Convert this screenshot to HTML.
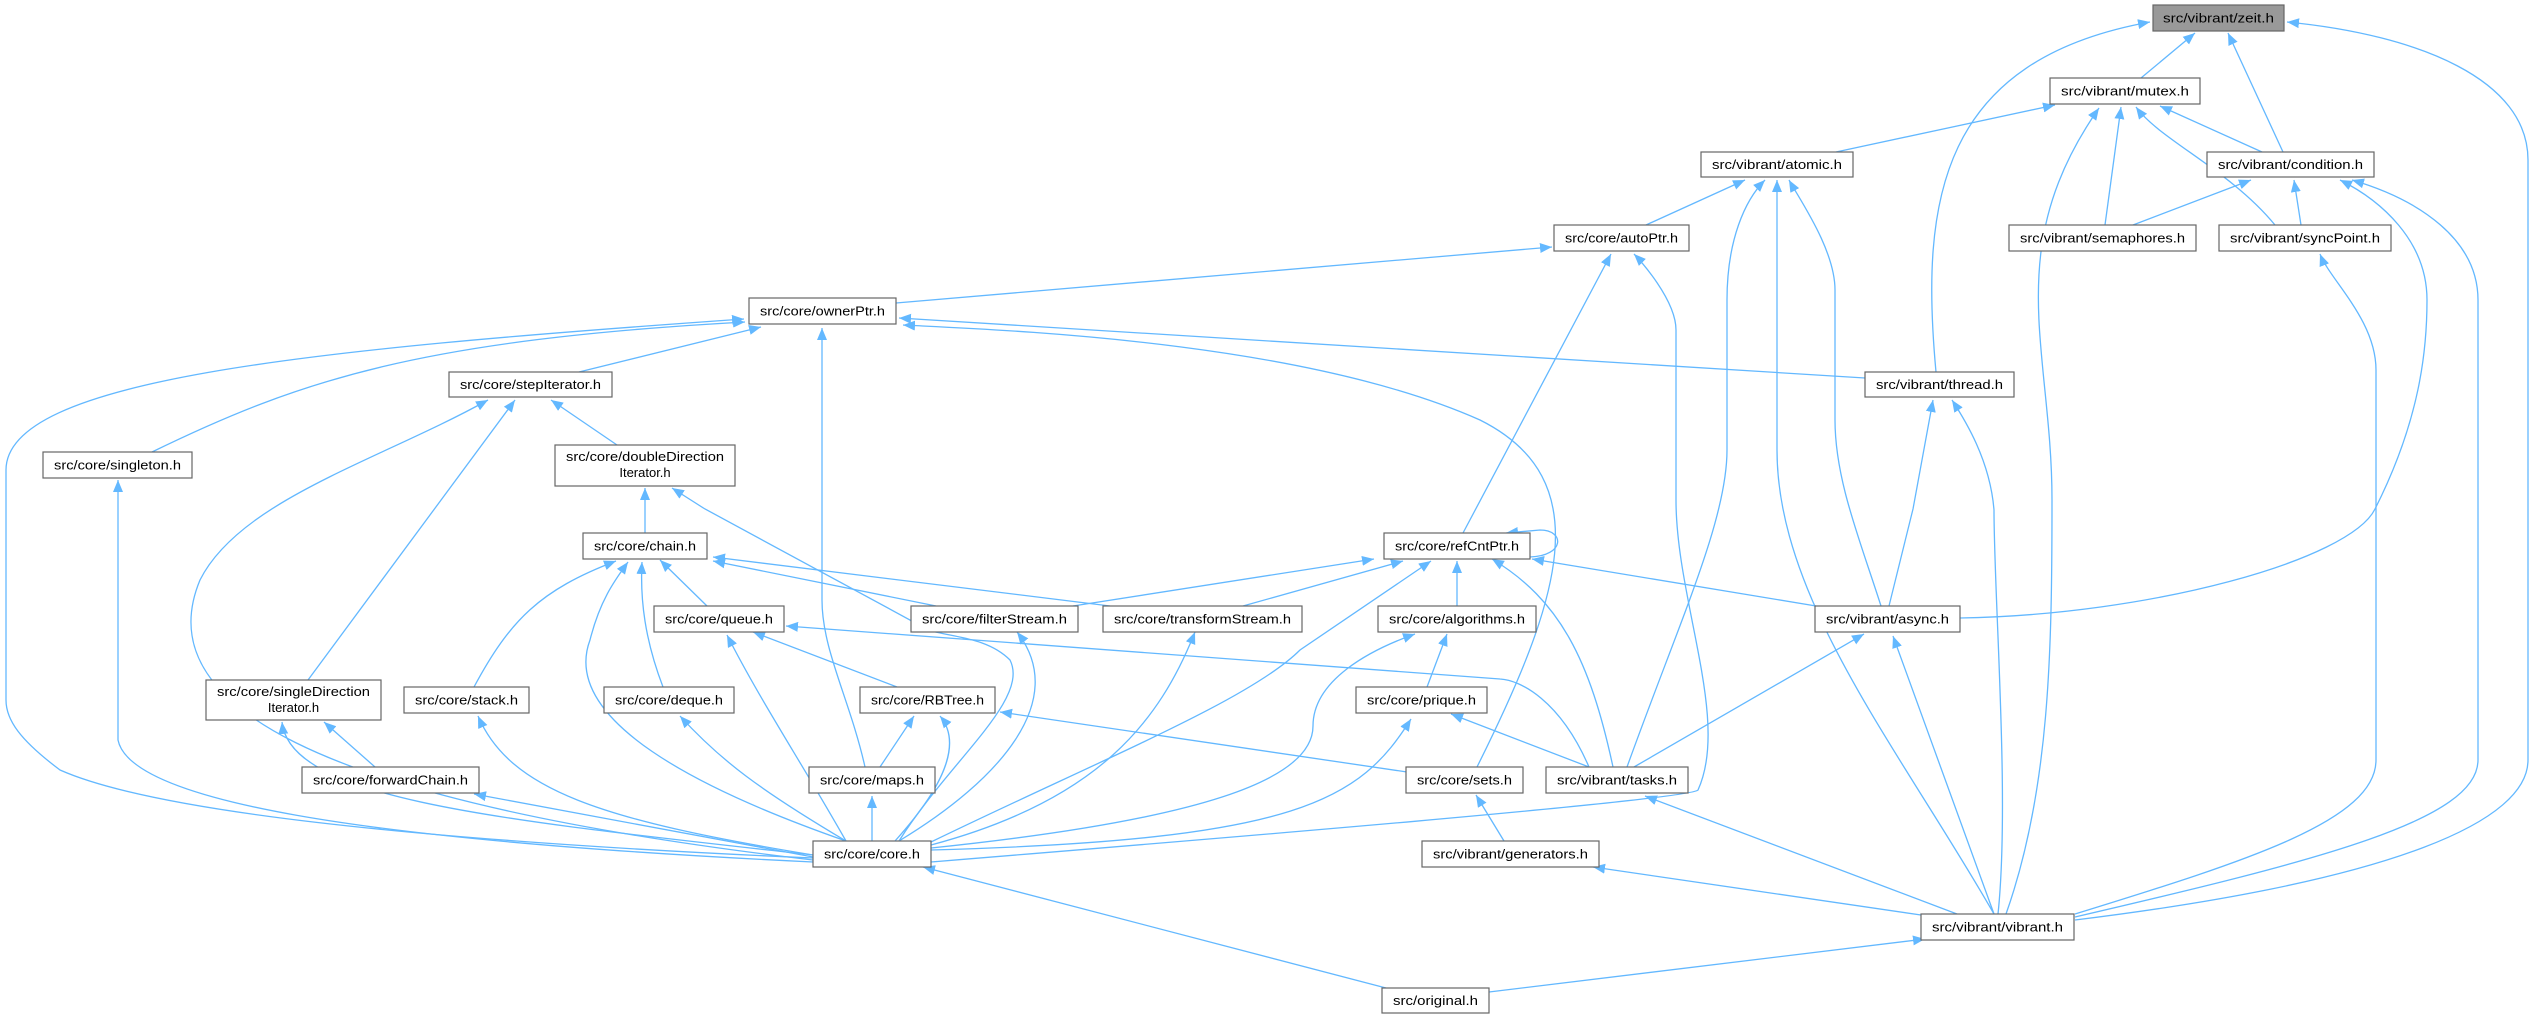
<!DOCTYPE html>
<html><head><meta charset="utf-8"><style>
html,body{margin:0;padding:0;background:#fff;}
svg{display:block;}
text{font-family:"Liberation Sans","DejaVu Sans",sans-serif;font-size:13px;fill:#000;}
.e{fill:none;stroke:#63b8ff;stroke-width:1.3;marker-end:url(#a);}
.n{fill:#fff;stroke:#666;stroke-width:1.2;}
</style></head><body>
<svg width="2535" height="1019" viewBox="0 0 2535 1019" xmlns="http://www.w3.org/2000/svg">
<defs><marker id="a" markerUnits="userSpaceOnUse" markerWidth="14" markerHeight="12" refX="12" refY="5" orient="auto"><path d="M0,0 L12,5 L0,10 z" fill="#63b8ff"/></marker></defs>
<g>
<path class="e" d="M2141,78 L2195,33"/>
<path class="e" d="M2283,152 L2228,33"/>
<path class="e" d="M1936,372 C1920,200 1940,60 2150,22"/>
<path class="e" d="M2075,920 C2400,880 2528,820 2528,760 L2528,160 C2528,80 2420,35 2287,22"/>
<path class="e" d="M1836,152 L2055,105"/>
<path class="e" d="M2262,152 L2160,106"/>
<path class="e" d="M2105,225 L2121,107"/>
<path class="e" d="M2275,225 C2230,170 2160,140 2136,107"/>
<path class="e" d="M2006,914 C2050,790 2052,650 2052,500 C2052,350 2000,250 2099,108"/>
<path class="e" d="M2133,225 L2251,180"/>
<path class="e" d="M2301,225 L2294,180"/>
<path class="e" d="M1960,618 C2150,615 2350,560 2375,509 C2420,420 2427,350 2427,300 C2427,240 2380,200 2340,180"/>
<path class="e" d="M2075,914 C2250,860 2376,820 2376,760 L2376,370 C2376,320 2330,280 2320,254"/>
<path class="e" d="M2075,917 C2320,860 2478,820 2478,760 L2478,300 C2478,240 2420,200 2352,180"/>
<path class="e" d="M1646,225 L1745,180"/>
<path class="e" d="M1627,767 C1680,620 1727,520 1727,450 L1727,300 C1727,240 1745,200 1765,180"/>
<path class="e" d="M1994,914 C1900,750 1777,600 1777,450 L1777,180"/>
<path class="e" d="M1881,606 C1860,540 1835,480 1835,420 L1835,290 C1835,250 1800,200 1789,180"/>
<path class="e" d="M896,303 L1552,247"/>
<path class="e" d="M1463,533 L1611,254"/>
<path class="e" d="M931,862 C1200,840 1690,800 1698,790 C1730,720 1676,600 1676,500 L1676,330 C1676,300 1640,260 1634,254"/>
<path class="e" d="M579,372 L761,327"/>
<path class="e" d="M152,452 C300,380 420,340 745,322"/>
<path class="e" d="M813,858 C400,840 150,810 60,770 C20,740 6,720 6,700 L6,470 C6,380 300,350 744,319"/>
<path class="e" d="M865,767 C850,700 822,650 822,600 L822,328"/>
<path class="e" d="M1865,378 L899,318"/>
<path class="e" d="M1477,767 C1560,600 1600,480 1480,420 C1300,340 1000,330 903,325"/>
<path class="e" d="M617,445 L551,400"/>
<path class="e" d="M308,680 L515,400"/>
<path class="e" d="M813,860 C300,800 150,700 200,580 C240,500 380,460 488,400"/>
<path class="e" d="M813,862 C350,840 130,800 118,740 L118,480"/>
<path class="e" d="M645,533 L645,488"/>
<path class="e" d="M899,841 C950,760 1030,700 1010,660 C980,630 930,640 910,620 L705,509 L672,488"/>
<path class="e" d="M707,606 L660,560"/>
<path class="e" d="M474,687 C510,620 540,590 616,561"/>
<path class="e" d="M663,687 C645,640 640,600 642,562"/>
<path class="e" d="M846,841 C700,790 560,720 590,640 C600,600 615,580 628,562"/>
<path class="e" d="M936,606 L713,561"/>
<path class="e" d="M1110,606 L713,557"/>
<path class="e" d="M1073,606 L1374,559"/>
<path class="e" d="M1243,606 L1403,561"/>
<path class="e" d="M1457,606 L1457,561"/>
<path class="e" d="M1816,606 L1532,559"/>
<path class="e" d="M1613,767 C1590,660 1560,600 1492,559"/>
<path class="e" d="M931,842 C1100,760 1250,700 1300,650 L1431,561"/>
<path class="e" d="M1530,557 C1565,556 1565,530 1540,530 L1506,533"/>
<path class="e" d="M897,687 L753,632"/>
<path class="e" d="M846,841 C800,760 760,700 727,635"/>
<path class="e" d="M1589,767 C1560,700 1520,680 1500,679 L786,626"/>
<path class="e" d="M899,841 C1000,780 1070,700 1017,632"/>
<path class="e" d="M931,845 C1100,800 1160,720 1195,632"/>
<path class="e" d="M1427,687 L1447,634"/>
<path class="e" d="M931,848 C1200,820 1313,780 1313,726 C1313,680 1370,650 1415,634"/>
<path class="e" d="M1634,767 L1864,634"/>
<path class="e" d="M1994,914 L1893,636"/>
<path class="e" d="M1889,606 L1913,509 L1933,400"/>
<path class="e" d="M1998,914 C2010,800 1994,600 1994,510 C1990,460 1965,420 1952,400"/>
<path class="e" d="M375,767 L324,722"/>
<path class="e" d="M813,855 C500,820 290,800 282,722"/>
<path class="e" d="M813,855 C600,820 510,790 478,716"/>
<path class="e" d="M846,841 C760,790 720,760 680,716"/>
<path class="e" d="M880,767 L914,716"/>
<path class="e" d="M895,841 C950,780 960,740 940,716"/>
<path class="e" d="M1407,772 L1000,712"/>
<path class="e" d="M1589,767 L1451,714"/>
<path class="e" d="M931,850 C1300,840 1360,800 1411,719"/>
<path class="e" d="M813,857 L474,794"/>
<path class="e" d="M872,841 L872,796"/>
<path class="e" d="M1504,841 L1476,795"/>
<path class="e" d="M1957,914 L1645,796"/>
<path class="e" d="M1921,915 L1593,867"/>
<path class="e" d="M1386,988 L923,867"/>
<path class="e" d="M1489,992 L1925,939"/>
</g>
<g>
<rect x="2153" y="5" width="131" height="26" fill="#999" stroke="#666" stroke-width="1.2"/><text x="2218.5" y="22.5" text-anchor="middle" textLength="111" lengthAdjust="spacingAndGlyphs">src/vibrant/zeit.h</text>
<rect class="n" x="2050" y="78" width="150" height="26"/><text x="2125" y="95.5" text-anchor="middle" textLength="128" lengthAdjust="spacingAndGlyphs">src/vibrant/mutex.h</text>
<rect class="n" x="1701" y="152" width="152" height="25"/><text x="1777" y="169" text-anchor="middle" textLength="130" lengthAdjust="spacingAndGlyphs">src/vibrant/atomic.h</text>
<rect class="n" x="2207" y="152" width="167" height="25"/><text x="2290.5" y="169" text-anchor="middle" textLength="145" lengthAdjust="spacingAndGlyphs">src/vibrant/condition.h</text>
<rect class="n" x="1554" y="225" width="135" height="26"/><text x="1621.5" y="242.5" text-anchor="middle" textLength="113" lengthAdjust="spacingAndGlyphs">src/core/autoPtr.h</text>
<rect class="n" x="2009" y="225" width="187" height="26"/><text x="2102.5" y="242.5" text-anchor="middle" textLength="165" lengthAdjust="spacingAndGlyphs">src/vibrant/semaphores.h</text>
<rect class="n" x="2219" y="225" width="172" height="26"/><text x="2305" y="242.5" text-anchor="middle" textLength="150" lengthAdjust="spacingAndGlyphs">src/vibrant/syncPoint.h</text>
<rect class="n" x="1865" y="372" width="149" height="25"/><text x="1939.5" y="389" text-anchor="middle" textLength="127" lengthAdjust="spacingAndGlyphs">src/vibrant/thread.h</text>
<rect class="n" x="749" y="298" width="147" height="26"/><text x="822.5" y="315.5" text-anchor="middle" textLength="125" lengthAdjust="spacingAndGlyphs">src/core/ownerPtr.h</text>
<rect class="n" x="449" y="372" width="163" height="25"/><text x="530.5" y="389" text-anchor="middle" textLength="141" lengthAdjust="spacingAndGlyphs">src/core/stepIterator.h</text>
<rect class="n" x="43" y="452" width="149" height="26"/><text x="117.5" y="469.5" text-anchor="middle" textLength="127" lengthAdjust="spacingAndGlyphs">src/core/singleton.h</text>
<rect class="n" x="555" y="445" width="180" height="41"/><text x="645" y="461" text-anchor="middle" textLength="158" lengthAdjust="spacingAndGlyphs">src/core/doubleDirection</text><text x="645" y="477" text-anchor="middle">Iterator.h</text>
<rect class="n" x="583" y="533" width="124" height="26"/><text x="645" y="550.5" text-anchor="middle" textLength="102" lengthAdjust="spacingAndGlyphs">src/core/chain.h</text>
<rect class="n" x="1384" y="533" width="146" height="26"/><text x="1457" y="550.5" text-anchor="middle" textLength="124" lengthAdjust="spacingAndGlyphs">src/core/refCntPtr.h</text>
<rect class="n" x="654" y="606" width="130" height="26"/><text x="719" y="623.5" text-anchor="middle" textLength="108" lengthAdjust="spacingAndGlyphs">src/core/queue.h</text>
<rect class="n" x="911" y="606" width="167" height="26"/><text x="994.5" y="623.5" text-anchor="middle" textLength="145" lengthAdjust="spacingAndGlyphs">src/core/filterStream.h</text>
<rect class="n" x="1103" y="606" width="199" height="26"/><text x="1202.5" y="623.5" text-anchor="middle" textLength="177" lengthAdjust="spacingAndGlyphs">src/core/transformStream.h</text>
<rect class="n" x="1378" y="606" width="158" height="26"/><text x="1457" y="623.5" text-anchor="middle" textLength="136" lengthAdjust="spacingAndGlyphs">src/core/algorithms.h</text>
<rect class="n" x="1815" y="606" width="145" height="26"/><text x="1887.5" y="623.5" text-anchor="middle" textLength="123" lengthAdjust="spacingAndGlyphs">src/vibrant/async.h</text>
<rect class="n" x="206" y="680" width="175" height="40"/><text x="293.5" y="696" text-anchor="middle" textLength="153" lengthAdjust="spacingAndGlyphs">src/core/singleDirection</text><text x="293.5" y="712" text-anchor="middle">Iterator.h</text>
<rect class="n" x="404" y="687" width="125" height="26"/><text x="466.5" y="704.5" text-anchor="middle" textLength="103" lengthAdjust="spacingAndGlyphs">src/core/stack.h</text>
<rect class="n" x="604" y="687" width="130" height="26"/><text x="669" y="704.5" text-anchor="middle" textLength="108" lengthAdjust="spacingAndGlyphs">src/core/deque.h</text>
<rect class="n" x="860" y="687" width="135" height="26"/><text x="927.5" y="704.5" text-anchor="middle" textLength="113" lengthAdjust="spacingAndGlyphs">src/core/RBTree.h</text>
<rect class="n" x="1356" y="687" width="131" height="26"/><text x="1421.5" y="704.5" text-anchor="middle" textLength="109" lengthAdjust="spacingAndGlyphs">src/core/prique.h</text>
<rect class="n" x="302" y="767" width="177" height="26"/><text x="390.5" y="784.5" text-anchor="middle" textLength="155" lengthAdjust="spacingAndGlyphs">src/core/forwardChain.h</text>
<rect class="n" x="809" y="767" width="126" height="26"/><text x="872" y="784.5" text-anchor="middle" textLength="104" lengthAdjust="spacingAndGlyphs">src/core/maps.h</text>
<rect class="n" x="1406" y="767" width="117" height="26"/><text x="1464.5" y="784.5" text-anchor="middle" textLength="95" lengthAdjust="spacingAndGlyphs">src/core/sets.h</text>
<rect class="n" x="1546" y="767" width="142" height="26"/><text x="1617" y="784.5" text-anchor="middle" textLength="120" lengthAdjust="spacingAndGlyphs">src/vibrant/tasks.h</text>
<rect class="n" x="813" y="841" width="118" height="26"/><text x="872" y="858.5" text-anchor="middle" textLength="96" lengthAdjust="spacingAndGlyphs">src/core/core.h</text>
<rect class="n" x="1422" y="841" width="177" height="26"/><text x="1510.5" y="858.5" text-anchor="middle" textLength="155" lengthAdjust="spacingAndGlyphs">src/vibrant/generators.h</text>
<rect class="n" x="1921" y="914" width="153" height="26"/><text x="1997.5" y="931.5" text-anchor="middle" textLength="131" lengthAdjust="spacingAndGlyphs">src/vibrant/vibrant.h</text>
<rect class="n" x="1382" y="988" width="107" height="25"/><text x="1435.5" y="1005" text-anchor="middle" textLength="85" lengthAdjust="spacingAndGlyphs">src/original.h</text>
</g>
</svg>
</body></html>
